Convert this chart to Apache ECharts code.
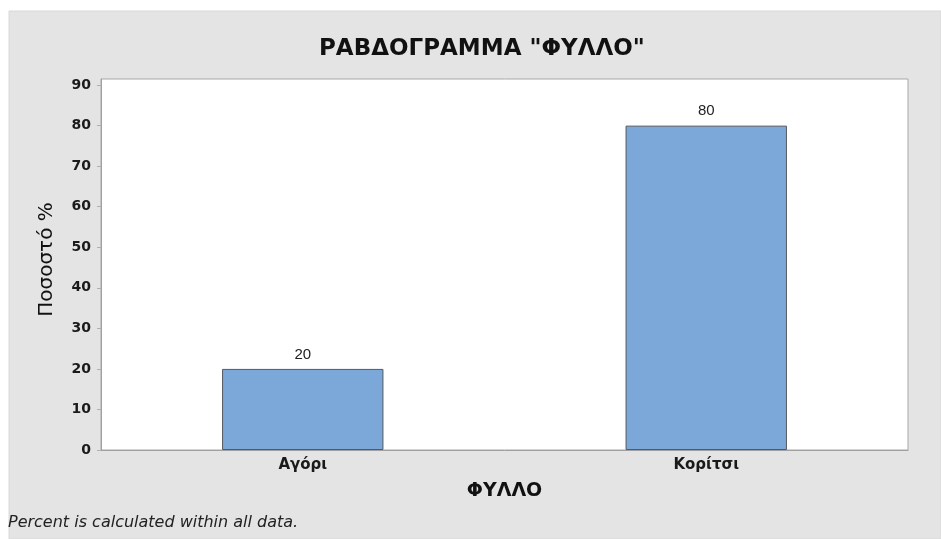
<!DOCTYPE html>
<html>
<head>
<meta charset="utf-8">
<script src="https://cdn.jsdelivr.net/npm/echarts@6/dist/echarts.min.js"></script>
<style>html,body{margin:0;padding:0;background:#fff}#c{width:941px;height:539px}</style>
</head>
<body>
<div id="c"></div>
<script>
const categories = ['Αγόρι', 'Κορίτσι'];
const percentValues = [20, 80];
const yTicks = [0, 10, 20, 30, 40, 50, 60, 70, 80, 90];
const titleText = 'ΡΑΒΔΟΓΡΑΜΜΑ "ΦΥΛΛΟ"';
const xName = 'ΦΥΛΛΟ';
const yName = 'Ποσοστό %';
const footnote = 'Percent is calculated within all data.';

const chart = echarts.init(document.getElementById('c'), null, {renderer: 'canvas'});
const font = '"DejaVu Sans", "Open Sans", sans-serif';
chart.setOption({
  backgroundColor: '#ffffff',
  animation: false,
  graphic: [
    {type: 'rect', z: -10, shape: {x: 9, y: 11, width: 932, height: 528},
     style: {fill: '#e4e4e4', stroke: '#d8d8d8', lineWidth: 1}},
    {type: 'text', left: 8, top: 515, z: 10,
     style: {text: footnote, font: 'italic 16px ' + font, fill: '#222'}}
  ],
  title: {
    text: titleText, left: 314, top: 33,
    textStyle: {fontFamily: font, fontWeight: 'bold', fontSize: 23, color: '#111'}
  },
  grid: {left: 101, right: 33, top: 79, bottom: 89, show: true,
         backgroundColor: '#ffffff', borderColor: '#a8a8a8', borderWidth: 1},
  xAxis: {
    type: 'category', data: categories,
    name: xName, nameLocation: 'middle', nameGap: 32,
    nameTextStyle: {fontFamily: font, fontWeight: 'bold', fontSize: 19, color: '#111'},
    axisLine: {lineStyle: {color: '#a0a0a0'}},
    axisTick: {alignWithLabel: true, length: 5, lineStyle: {color: '#b0b0b0'}},
    axisLabel: {fontFamily: font, fontWeight: 'bold', fontSize: 15, color: '#1a1a1a', margin: 8}
  },
  yAxis: {
    type: 'value', min: 0, max: 91.5,
    name: yName, nameLocation: 'middle', nameGap: 44, nameRotate: 90,
    nameTextStyle: {fontFamily: font, fontSize: 20, color: '#111', padding: [0, 0, 0, 10]},
    splitLine: {show: false},
    axisLine: {show: true, lineStyle: {color: '#a0a0a0'}},
    axisTick: {show: true, length: 4, customValues: yTicks, lineStyle: {color: '#b0b0b0'}},
    axisLabel: {customValues: yTicks, fontFamily: font, fontWeight: 'bold', fontSize: 14, color: '#1a1a1a', margin: 10}
  },
  series: [{
    type: 'bar', data: percentValues, barWidth: '40%',
    itemStyle: {color: '#7ba7d9', borderColor: '#555a60', borderWidth: 1},
    label: {show: true, position: 'top', distance: 7,
            fontFamily: '"Liberation Sans", Arial, sans-serif', fontSize: 15, color: '#222'}
  }]
});
</script>
</body>
</html>
